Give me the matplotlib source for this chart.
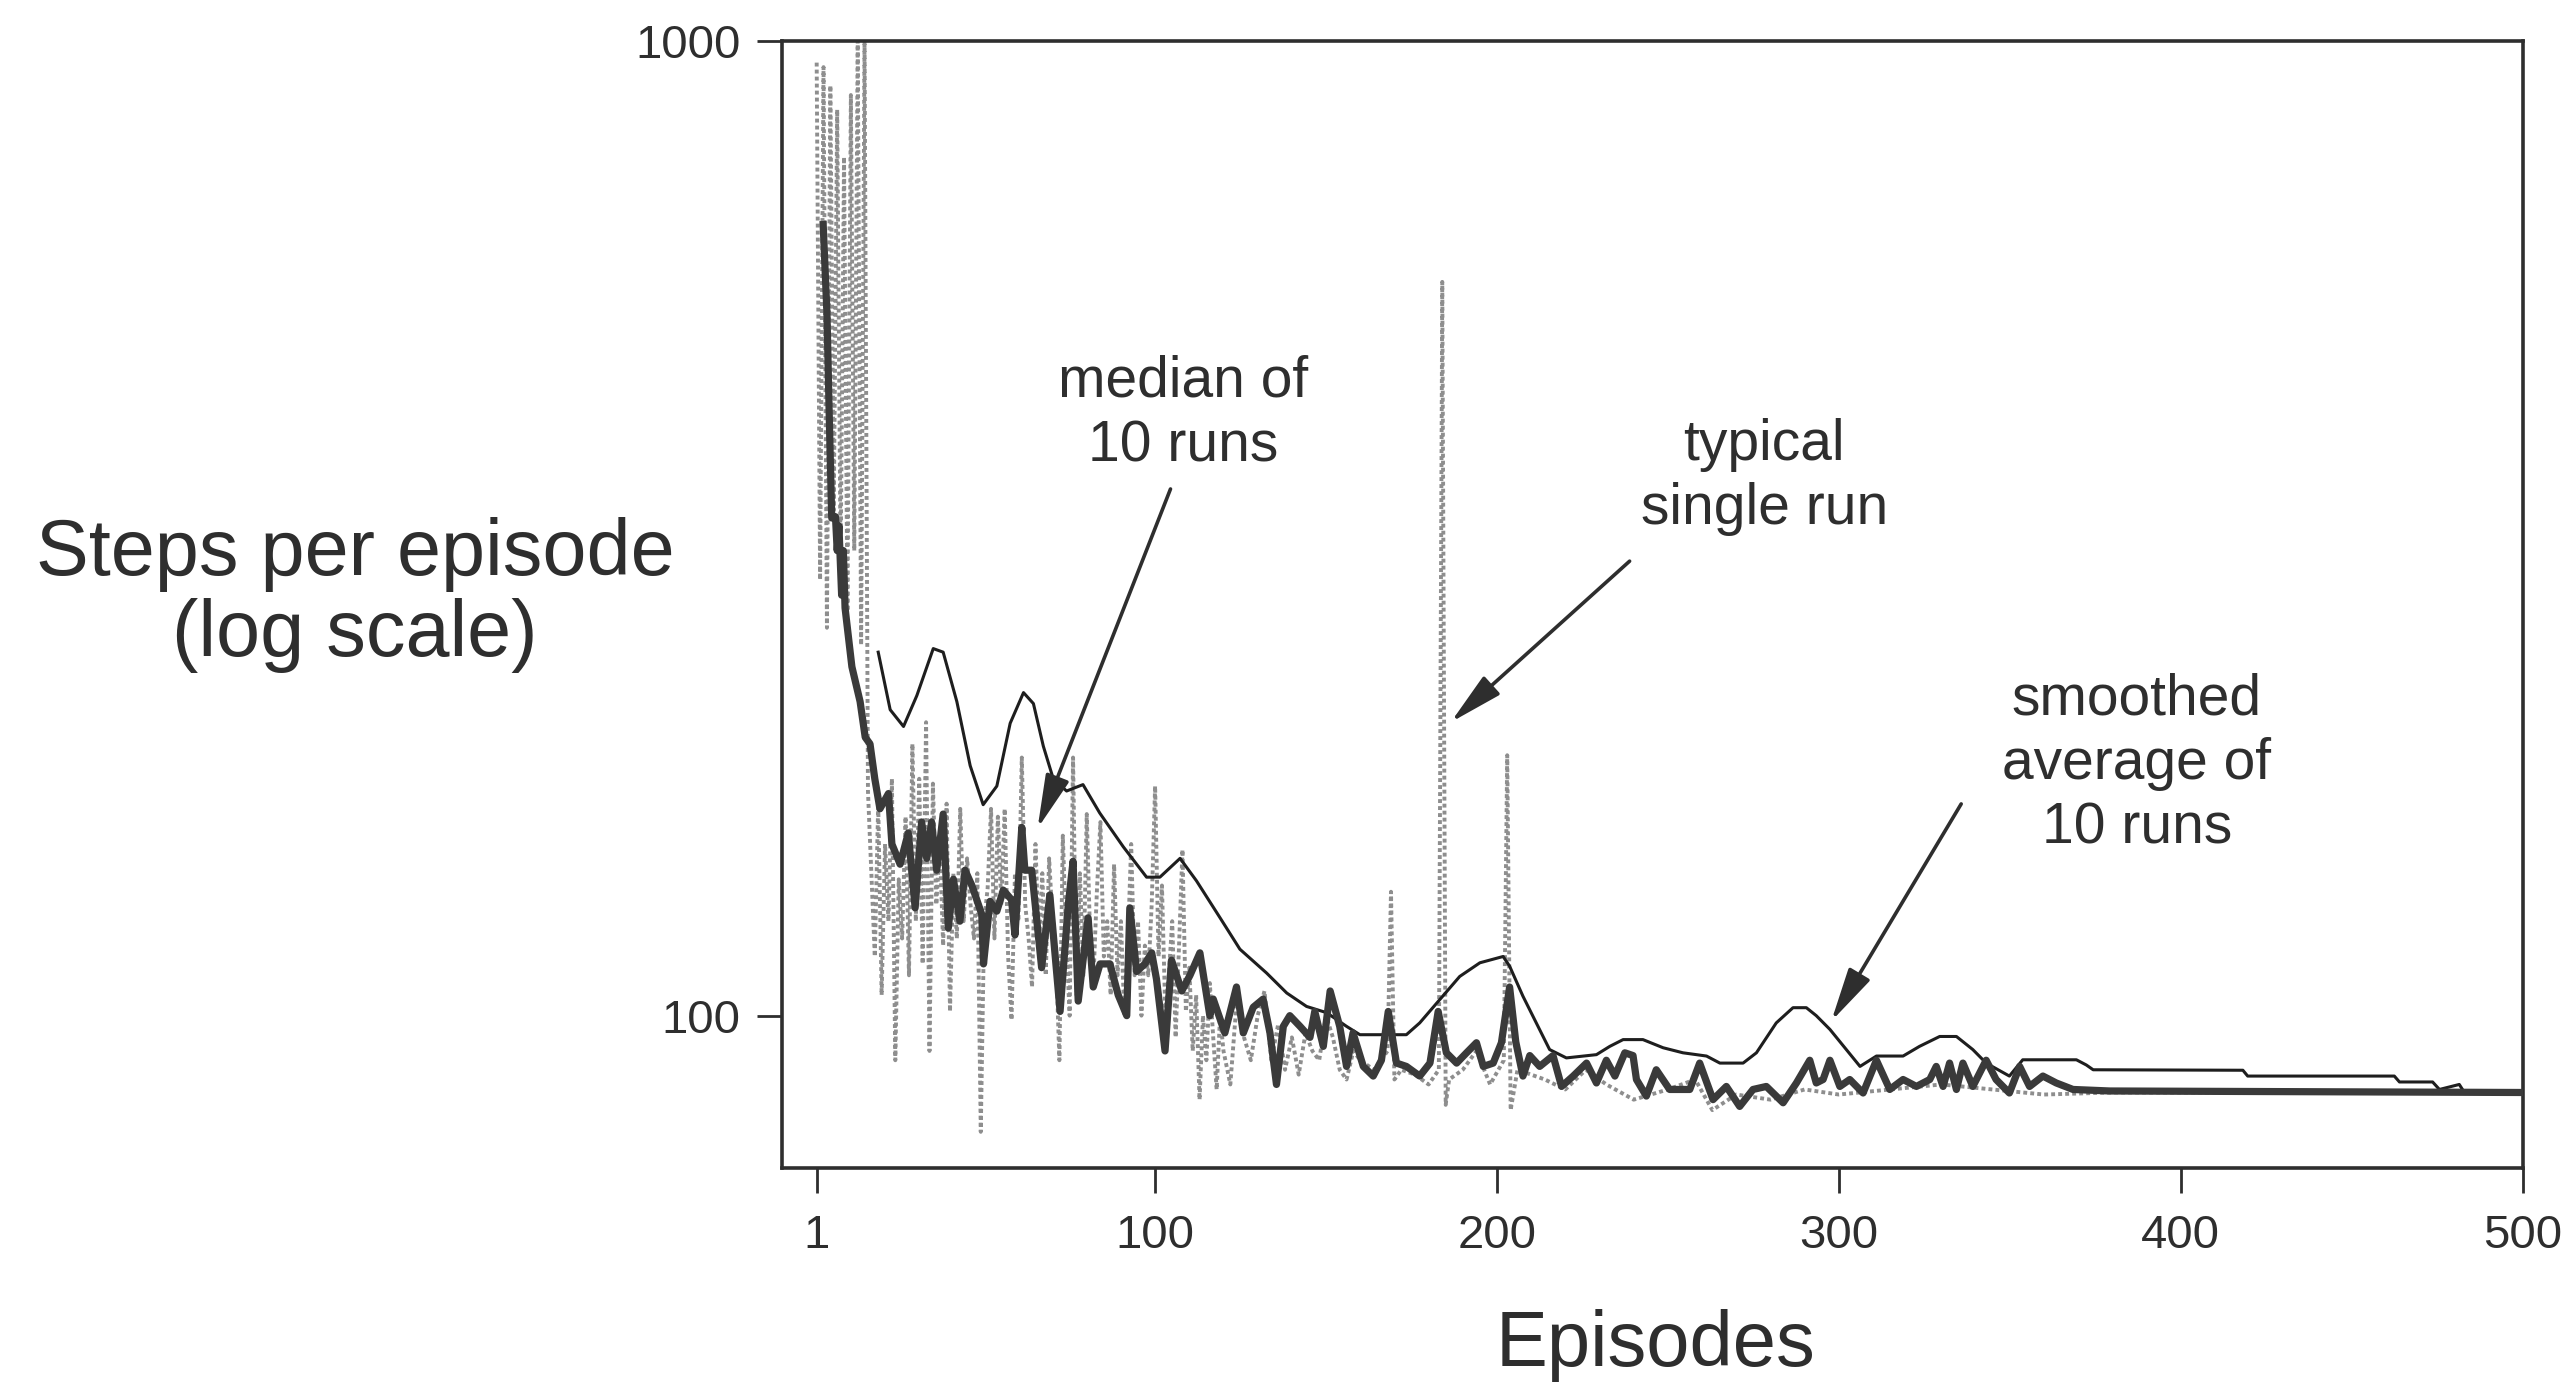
import matplotlib
matplotlib.use("Agg")
import matplotlib.pyplot as plt

plt.rcParams['font.family'] = ['Liberation Sans', 'DejaVu Sans']

# ---- data ----
# typical single run (episode, steps)
single_ep = [1, 2, 3, 4, 5, 6, 7, 8, 9, 10, 11, 12, 13, 14, 15, 16, 17, 18, 19, 20,
             21, 22, 23, 24, 25, 26, 27, 28, 29, 30, 31, 32, 33, 34, 35, 36, 37, 38, 39, 40,
             41, 42, 43, 44, 45, 46, 47, 48, 49, 50, 51, 52, 53, 54, 55, 56, 57, 58, 59, 60,
             61, 62, 63, 64, 65, 66, 67, 68, 69, 70, 71, 72, 73, 74, 75, 76, 77, 78, 79, 80,
             81, 82, 83, 84, 85, 86, 87, 88, 89, 90, 91, 92, 93, 94, 95, 96, 97, 98, 99, 100,
             101, 102, 103, 104, 105, 106, 107, 108, 109, 110, 111, 112, 113, 114, 115, 116,
             117, 118, 119, 120, 122, 124, 126, 128, 130, 132, 134, 136, 138, 140, 142, 144,
             146, 148, 150, 152, 154, 156, 158, 160, 164, 168, 169, 170, 172, 176, 180, 183,
             184, 185, 186, 190, 194, 198, 202, 203, 204, 206, 210, 214, 220, 226, 232, 240,
             250, 258, 263, 270, 280, 290, 300, 315, 330, 345, 360, 380, 500]
single_steps = [950, 280, 940, 250, 900, 330, 850, 290, 760, 260, 880, 300, 1000, 240, 1000, 170, 140, 115, 165, 105,
                150, 125, 175, 90, 138, 120, 160, 110, 190, 125, 175, 113, 200, 92, 173, 130, 150, 118, 165, 101,
                140, 120, 163, 125, 145, 130, 120, 140, 76, 125, 135, 163, 120, 160, 130, 163, 115, 99, 140, 125,
                184, 130, 120, 107, 150, 118, 140, 110, 145, 125, 115, 90, 153, 120, 100, 184, 105, 140, 110, 161,
                120, 110, 135, 158, 115, 125, 105, 143, 110, 125, 100, 118, 150, 110, 125, 100, 118, 110, 130, 172,
                115, 136, 100, 110, 125, 95, 118, 148, 101, 112, 92, 105, 82, 100, 90, 108,
                95, 84, 100, 92, 85, 105, 95, 90, 100, 106, 90, 98, 88, 95, 87, 96,
                92, 90, 100, 95, 88, 86, 92, 90, 88, 92, 134, 86, 88, 87, 85, 88,
                566, 81, 86, 88, 92, 85, 90, 185, 80, 88, 87, 86, 84, 88, 85, 82,
                84, 86, 80, 83, 82, 84, 83, 84, 85, 84, 83, 83.4, 83.4]

# median of 10 runs
median_ep = [2.9, 4.0, 4.7, 5.4, 6.5, 7.0, 7.5, 8.3, 8.8, 9.3, 11.3, 13.7, 15.2, 16.6, 18, 19.5,
             22, 23, 25.4, 27.8, 29.8, 31.7, 33.2, 34.6, 36.1, 38, 39.5, 41, 42.9, 44.4, 46.4,
             49.3, 49.8, 51.7, 53.7, 55.6, 58, 59, 61, 61.9, 63.9, 66.8, 69.2, 72.2, 74.6, 76,
             77.5, 80.4, 81.9, 83.9, 86.8, 89.2, 91.7, 92.6, 94.6, 97, 99, 100.4, 102.9, 104.8,
             107.8, 110.2, 113.1, 116, 117, 120.4, 123.8, 125.8, 128.7, 131.6, 133.6, 135.5,
             137.5, 139.4, 142.4, 145.3, 146.7, 149.2, 151.2, 154, 156, 157.9, 160.9, 163.8,
             166.2, 168.2, 170.6, 173.5, 177.4, 180.4, 182.8, 185.2, 188.2, 191.1, 194, 196,
             198.9, 201.3, 203.7, 205.5, 207.6, 209.6, 212.5, 216.4, 218.9, 222.3, 226.2,
             229.1, 232, 234.5, 237.4, 239.8, 240.8, 243.7, 246.6, 250.5, 256.4, 259.3, 263.2,
             267.1, 271, 274.9, 278.8, 283.7, 287.6, 291.5, 293.4, 295.4, 297.4, 300.3, 303.2,
             307.1, 311, 314.9, 318.8, 322.7, 326.6, 328.5, 330.5, 332.4, 334.4, 336.3, 339.2,
             343.1, 346, 349.9, 352.9, 355.8, 359.7, 363.6, 368.5, 379.2, 500]
median_steps = [648, 526, 409, 324, 325, 300, 318, 270, 300, 262, 228, 210, 193, 190, 175, 163,
                169, 150, 143, 154, 129, 158, 145, 158, 141, 161, 123, 138, 125, 141, 136,
                127, 113, 131, 128, 134.5, 131.5, 121, 156, 141, 141, 112, 133, 101, 130, 144,
                103.5, 126, 107, 113, 113, 105, 100, 129, 111, 113, 116, 109, 92, 114,
                106, 110, 116, 100, 104, 96, 107, 96, 102, 104, 96, 85,
                97.5, 100, 97.5, 95, 101, 93, 106, 97.5, 88.7, 96, 88.7, 86.7,
                90, 101, 89.4, 88.7, 86.7, 89.4, 101, 91.6, 89.4, 91.6, 93.8, 88.7,
                89.4, 93.8, 107, 94, 86.7, 91, 88.7, 91, 84.6, 86.7, 89.4,
                85.3, 90, 86.7, 91.6, 91, 86, 82.7, 88, 84, 84, 89.4, 82,
                84.6, 80.7, 84, 84.6, 81.4, 85.3, 90, 85.3, 86, 90, 84.6, 86,
                83.3, 90, 84, 86, 84.6, 86, 88.7, 84.6, 89.4, 84, 89.4, 84.6,
                90, 86, 83.3, 88.7, 84.6, 86.7, 85.3, 84, 83.7, 83.4]

# smoothed average of 10 runs
smooth_ep = [19, 22.5, 26.4, 30.3, 35.1, 38, 42, 45.9, 49.7, 53.7, 57.6, 61.5, 64.4, 67.3,
             70.2, 74.1, 78.9, 83.8, 90.7, 97.5, 101.4, 107.3, 112.1, 119, 124.8, 132.6,
             138.5, 144.3, 150.2, 156, 159.9, 173.5, 177.4, 183.3, 189.1, 195, 201.8, 203.7,
             207.6, 211.5, 215.4, 220.3, 229.1, 233, 236.9, 242.7, 248.6, 254.4, 261.3, 265.2,
             272, 275.9, 281.7, 286.6, 290.5, 293.4, 297.4, 306.2, 311, 318.8, 323.6, 329.5,
             334.4, 339.2, 343.1, 349.9, 353.8, 369.5, 372.4, 374.4, 418.2, 419.6, 462.5,
             464, 473.7, 475.7, 481.5, 483]
smooth_steps = [236, 206, 198, 213, 238, 236, 210, 180.5, 164.6, 172, 199.5, 214.5, 209, 189,
                175, 170, 172.6, 161.4, 149, 138.7, 138.7, 145, 137.5, 126, 117, 110.6,
                105.5, 102.2, 100.7, 97.5, 95.6, 95.6, 98.3, 103.9, 109.7, 113.3, 115, 112.4,
                104.7, 98.3, 92.3, 90.5, 91.2, 93, 94.5, 94.5, 92.7, 91.6, 90.9, 89.4,
                89.4, 91.6, 98.3, 101.9, 101.9, 100, 96.8, 88.7, 90.9, 90.9, 93, 95.2,
                95.2, 92.3, 89.4, 86.7, 90.1, 90.1, 89, 88, 87.9, 86.7, 86.7,
                85.5, 85.5, 84, 85, 83.4]

x_ticks = [1, 100, 200, 300, 400, 500]
y_ticks = [100, 1000]

ink = '#2e2e2e'

fig = plt.figure(figsize=(25.74, 13.87), dpi=100)
ax = fig.add_axes([0.304, 0.158, 0.676, 0.8125])

# single run drawn as a stippled grey line, like the halftone print
ax.plot(single_ep, single_steps, color='#8e8e8e', lw=2.8, ls=(0, (1, 0.8)), zorder=1)
ax.plot(smooth_ep, smooth_steps, color='#1e1e1e', lw=2.2, zorder=2)
ax.plot(median_ep, median_steps, color='#3a3a3a', lw=5.2, zorder=3)

ax.set_yscale('log')
ax.set_xlim(-9, 500)
ax.set_ylim(69.8, 1000)
ax.set_xticks(x_ticks)
ax.set_xticklabels([str(t) for t in x_ticks])
ax.set_yticks(y_ticks)
ax.set_yticklabels([str(t) for t in y_ticks])
ax.yaxis.set_minor_locator(matplotlib.ticker.NullLocator())

ax.tick_params(axis='both', direction='out', length=18, width=2, color=ink,
               labelsize=34, labelcolor=ink)
ax.tick_params(axis='x', pad=15)
ax.tick_params(axis='y', pad=12)
for sp in ax.spines.values():
    sp.set_linewidth(2.6)
    sp.set_color(ink)

# axis titles
fig.text(0.138, 0.571, 'Steps per episode\n(log scale)', ha='center', va='center',
         fontsize=57, color=ink, linespacing=1.1)
fig.text(0.643, 0.030, 'Episodes', ha='center', va='center', fontsize=56, color=ink)

# annotations
arrow = dict(arrowstyle='-|>,head_length=1.1,head_width=0.25', color=ink, lw=2.6,
             mutation_scale=30, shrinkA=0, shrinkB=0)
ax.text(108.3, 414, 'median of\n10 runs', ha='center', va='center', fontsize=41,
        color=ink, linespacing=1.25)
ax.annotate('', xy=(65.6, 155.6), xytext=(104.5, 347), arrowprops=arrow)

ax.text(278.2, 357, 'typical\nsingle run', ha='center', va='center', fontsize=41,
        color=ink, linespacing=1.25)
ax.annotate('', xy=(186.5, 200), xytext=(238.8, 292.6), arrowprops=arrow)

ax.text(387.2, 181, 'smoothed\naverage of\n10 runs', ha='center', va='center', fontsize=41,
        color=ink, linespacing=1.25)
ax.annotate('', xy=(297.8, 98.7), xytext=(335.8, 164.9), arrowprops=arrow)

fig.savefig('out.png', dpi=100)
